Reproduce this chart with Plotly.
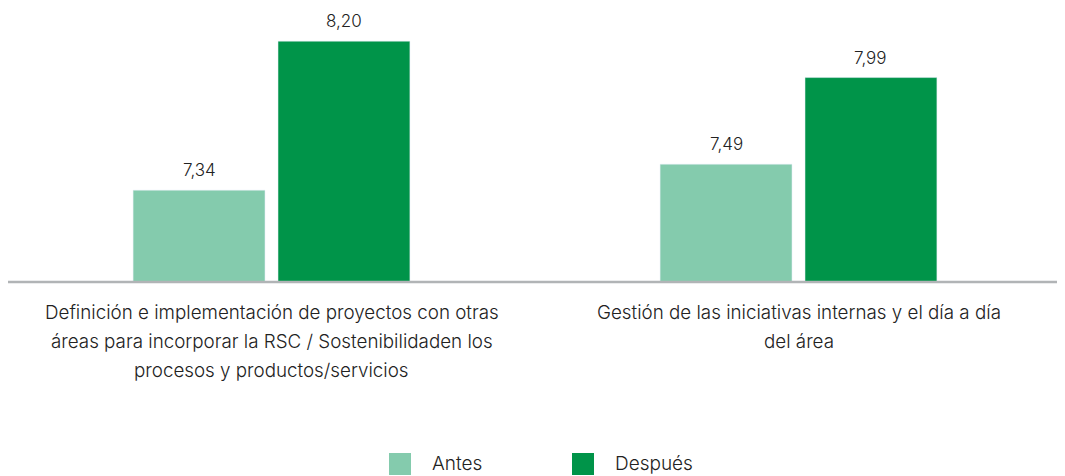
import plotly.graph_objects as go

categories = [
    "Definición e implementación de proyectos con otras<br>áreas para incorporar la RSC / Sostenibilidaden los<br>procesos y productos/servicios",
    "Gestión de las iniciativas internas y el día a día<br>del área",
]
antes = [7.34, 7.49]
despues = [8.20, 7.99]
series_names = ["Antes", "Después"]
colors = ["#84CBAD", "#009449"]

FONT = "Inter, Roboto, sans-serif"
TEXT_COLOR = "#222222"

W, H = 1065, 476
PAGE_OFF = 8  # default page body margin in the browser
ML, MR, MT, MB = 0, 11, 2, 202
BARGAP, BARGROUPGAP = 0.45, 0.09
plot_w = W - ML - MR
plot_h = H - MT - MB
cat_px = plot_w / len(categories)
slot_px = cat_px * (1 - BARGAP) / len(series_names)

fig = go.Figure()
for i, (name, vals, col) in enumerate(zip(series_names, [antes, despues], colors)):
    fig.add_trace(go.Bar(
        x=categories, y=vals, name=name, marker_color=col,
        showlegend=False, hoverinfo="x+y",
    ))
    xshift = (i - (len(series_names) - 1) / 2) * slot_px
    for c, v in zip(categories, vals):
        fig.add_annotation(
            x=c, y=v, xref="x", yref="y", text=f"{v:.2f}".replace(".", ","),
            showarrow=False, yanchor="bottom", xshift=xshift, yshift=8,
            font=dict(size=17, color=TEXT_COLOR, family=FONT, weight=300),
        )

# category labels, one annotation per line for the wider line spacing
LINE_STEP = 29
for c in categories:
    for k, line in enumerate(c.split("<br>")):
        fig.add_annotation(
            x=c, y=0, xref="x", yref="paper", text=line, showarrow=False,
            yanchor="middle", yshift=-30 - k * LINE_STEP,
            font=dict(size=18.8, color=TEXT_COLOR, family=FONT, weight=300),
        )

# manual legend with larger square swatches (positions in window pixels)
def px_to_paper_x(px):
    return (px - PAGE_OFF - ML) / plot_w

def px_to_paper_y(py):
    return (H - MB - (py - PAGE_OFF)) / plot_h

legend_left = [389, 572]
for name, col, lx in zip(series_names, colors, legend_left):
    fig.add_shape(
        type="rect", xref="paper", yref="paper",
        x0=px_to_paper_x(lx), x1=px_to_paper_x(lx + 22),
        y0=px_to_paper_y(475), y1=px_to_paper_y(453),
        fillcolor=col, line=dict(width=0),
    )
    fig.add_annotation(
        x=px_to_paper_x(lx + 41), y=px_to_paper_y(464), xref="paper", yref="paper",
        text=name, showarrow=False, xanchor="left", yanchor="middle",
        font=dict(size=19, color=TEXT_COLOR, family=FONT, weight=300),
    )

# baseline axis line running to the right edge of the window
fig.add_shape(
    type="line", xref="paper", yref="paper",
    x0=0, x1=px_to_paper_x(W + 2), y0=0, y1=0,
    line=dict(color="#B1B4B6", width=2.5), layer="above",
)

fig.update_layout(
    width=W, height=H,
    margin=dict(l=ML, r=MR, t=MT, b=MB, autoexpand=False),
    paper_bgcolor="white", plot_bgcolor="white",
    barmode="group", bargap=BARGAP, bargroupgap=BARGROUPGAP,
    font=dict(family=FONT, size=17, color=TEXT_COLOR),
    showlegend=False,
)
fig.update_xaxes(
    showline=False, showgrid=False, ticks="", showticklabels=False,
    automargin=False, zeroline=False,
)
fig.update_yaxes(range=[6.81, 8.38], visible=False, showgrid=False,
                 zeroline=False, automargin=False)

fig.write_html("out.html")
